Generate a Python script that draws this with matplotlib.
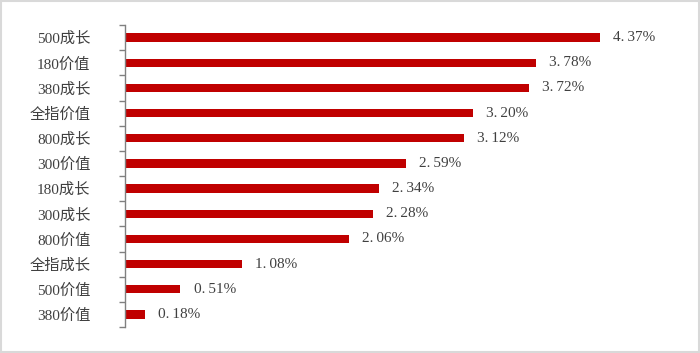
import matplotlib
matplotlib.use("Agg")
import matplotlib.pyplot as plt
import numpy as np

categories = ["500成长", "180价值", "380成长", "全指价值", "800成长", "300价值",
              "180成长", "300成长", "800价值", "全指成长", "500价值", "380价值"]
values = [4.37, 3.78, 3.72, 3.20, 3.12, 2.59, 2.34, 2.28, 2.06, 1.08, 0.51, 0.18]

fam = ["Liberation Serif", "Noto Sans CJK SC", "DejaVu Sans"]
txt_color = "#404040"

fig = plt.figure(figsize=(7.0, 3.53), dpi=100)
fig.patches.append(plt.Rectangle((0.001, 0.002), 0.997, 0.995, transform=fig.transFigure,
                                 fill=False, edgecolor="#D9D9D9", linewidth=1.5))
ax = fig.add_axes([125/700, 1-327/353, (668-125)/700, (327-25)/353])

n = len(categories)
y = np.arange(n)
ax.barh(y, values, height=0.33, color="#C00000", left=0)
ax.set_ylim(n-0.5, -0.5)
ax.set_xlim(0, 5.0)

for yi, v in zip(y, values):
    s = f"{v:.2f}%"
    ip, fp = s.split(".")
    label = ip + ".\u2009" + fp
    ax.annotate(label, xy=(v, yi), xytext=(9.5, 0), textcoords="offset points",
                va="center", ha="left", fontsize=11, family=fam, color=txt_color)

ax.set_yticks(y)
ax.set_yticklabels(categories, fontsize=11, family=fam, color=txt_color)
ax.set_yticks(np.arange(-0.5, n, 1), minor=True)
ax.tick_params(axis="y", which="major", length=0, pad=25)
ax.tick_params(axis="y", which="minor", length=4, color="#808080", width=1, direction="out")
ax.set_xticks([])
for s in ["top", "right", "bottom"]:
    ax.spines[s].set_visible(False)
ax.spines["left"].set_color("#808080")
ax.spines["left"].set_linewidth(1)
ax.patch.set_alpha(0)

fig.savefig("out.png", dpi=100)
